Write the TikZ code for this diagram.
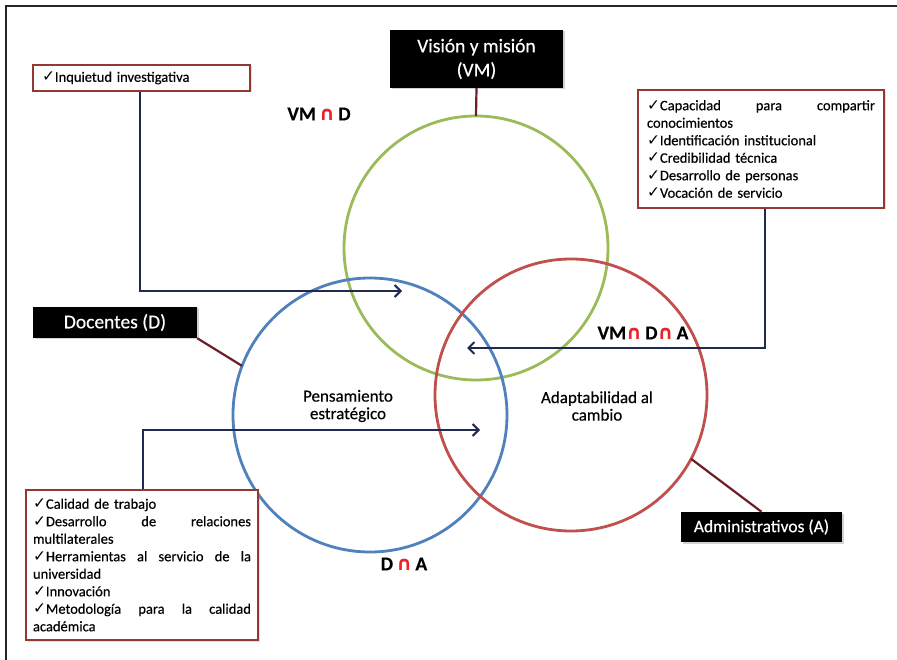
\documentclass[tikz,border=0pt]{standalone}
\usepackage{fontspec}
\setmainfont{Carlito}[FakeBold=0.35]
\newfontfamily\symf{DejaVu Sans}
\usetikzlibrary{arrows.meta,shadows}

\definecolor{vmgreen}{HTML}{9BBB59}
\definecolor{dblue}{HTML}{4F81BD}
\definecolor{ared}{HTML}{C0504D}
\definecolor{boxred}{HTML}{953735}
\definecolor{linkred}{HTML}{6B1E26}
\definecolor{navy}{HTML}{1F2A52}
\definecolor{capred}{HTML}{E8232A}

% check mark used in the lists
\newcommand\ck{{\symf\bfseries\fontsize{15.5}{10}\selectfont ✓}}
% red intersection sign between set names
\newcommand\inter{{\symf\bfseries\color{capred}∩}}

\begin{document}
\begin{tikzpicture}[x=1pt,y=-1pt,
  setcircle/.style={circle,draw,line width=2.8pt,inner sep=0pt,outer sep=0pt,minimum size=#1},
  blackbox/.style={fill=black,text=white,inner sep=0pt,align=center,
    drop shadow={opacity=0.35,shadow xshift=1.5pt,shadow yshift=-1.5pt}},
  listbox/.style={draw=boxred,fill=white,line width=2.4pt,inner sep=0pt,align=left,
    font=\fontsize{14.5}{17.5}\selectfont,
    drop shadow={opacity=0.25,shadow xshift=1.5pt,shadow yshift=-1.5pt}},
  arrowline/.style={draw=navy,line width=2.6pt,-{Straight Barb[length=6pt,width=12pt,line width=2pt]}},
  tagline/.style={draw=linkred,line width=2.2pt},
  setlabel/.style={font=\fontsize{19.5}{20}\selectfont\bfseries,inner sep=0pt},
  areatext/.style={font=\fontsize{17}{17.5}\selectfont,align=center,inner sep=0pt}
]
\useasboundingbox (0,0) rectangle (897,660);
\fill[white] (0,0) rectangle (897,660);

% outer frame
\draw[line width=1.8pt,black!85] (6,660) -- (6,6) -- (897,6);

% the three sets
\node[setcircle=264pt,draw=vmgreen] (G) at (476,248) {};
\node[setcircle=274pt,draw=dblue] (D) at (370,415) {};
\node[setcircle=272pt,draw=ared] (A) at (571,395) {};

% set titles
\node[blackbox,minimum width=173pt,minimum height=58pt,font=\fontsize{19.5}{24}\selectfont]
  (vm) at (476.5,59) {Visión y misión\\(VM)};
\node[blackbox,minimum width=164pt,minimum height=31pt,font=\fontsize{19.5}{20}\selectfont]
  (doc) at (115,322.5) {Docentes (D)};
\node[blackbox,minimum width=161pt,minimum height=30pt,font=\fontsize{17.5}{20}\selectfont]
  (adm) at (761.5,527) {Administrativos (A)};

\draw[tagline] (vm.south) -- (G.north);
\draw[tagline] (doc.south east) -- (D.159);
\draw[tagline] (adm.north) -- (A.-28);

% attribute lists
\node[listbox,minimum width=217pt,minimum height=26pt,text width=199pt]
  (iq) at (141.5,78) {\ck Inquietud investigativa};
\node[listbox,minimum width=246pt,minimum height=118pt,text width=228pt]
  (rb) at (761,149) {\ck Capacidad\hfill para\hfill compartir\\
  conocimientos\\
  \ck Identificación institucional\\
  \ck Credibilidad técnica\\
  \ck Desarrollo de personas\\
  \ck Vocación de servicio};
\node[listbox,minimum width=232pt,minimum height=150pt,text width=218pt]
  (bl) at (142,565) {\ck Calidad de trabajo\\
  \ck Desarrollo\hfill de\hfill relaciones\\
  multilaterales\\
  \ck Herramientas\hfill al\hfill servicio\hfill de\hfill la\\
  universidad\\
  \ck Innovación\\
  \ck Metodología\hfill para\hfill la\hfill calidad\\
  académica};

% arrows into the regions
\coordinate (t1) at (402,291);
\coordinate (t2) at (467,348);
\coordinate (t3) at (480,430);
\draw[arrowline] ([xshift=-1.5pt]iq.south) |- (t1);
\draw[arrowline] ([xshift=4pt]rb.south) |- (t2);
\draw[arrowline] ([xshift=1pt]bl.north) |- (t3);

% region texts
\node[areatext] (pe) at (348,406) {Pensamiento\\estratégico};
\node[areatext] (ac) at (597,406) {Adaptabilidad al\\cambio};

% intersection labels
\node[setlabel] (vmd) at (319,114) {VM\,\inter\,D};
\node[setlabel] (vmda) at (643,333) {VM\inter\,D\inter\,A};
\node[setlabel] (da) at (404,564) {D\,\inter\,A};
\end{tikzpicture}
\end{document}
